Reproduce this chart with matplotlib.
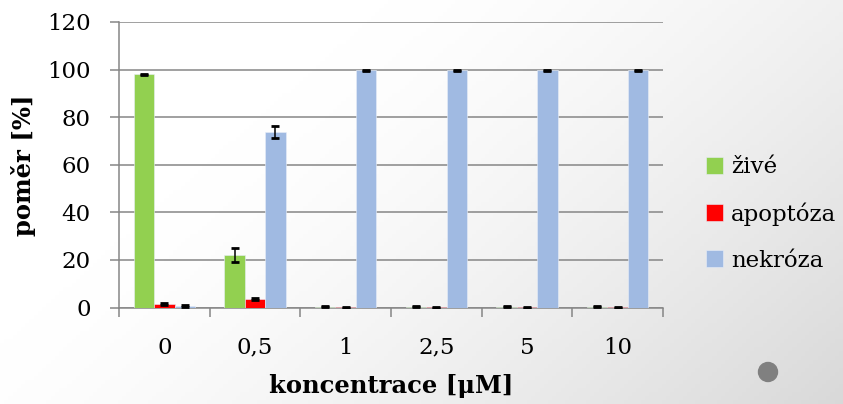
import matplotlib.pyplot as plt
from matplotlib.patches import Circle
import numpy as np

# data
kategorie = ["0", "0,5", "1", "2,5", "5", "10"]
zive = [98.0, 22.2, 0.3, 0.3, 0.3, 0.3]
zive_err = [0.3, 3.0, 0.2, 0.2, 0.2, 0.2]
apoptoza = [1.5, 3.7, 0.1, 0.1, 0.1, 0.1]
apoptoza_err = [0.5, 0.5, 0.1, 0.1, 0.1, 0.1]
nekroza = [0.8, 73.8, 99.7, 99.7, 99.7, 99.7]
nekroza_err = [0.4, 2.5, 0.2, 0.2, 0.2, 0.2]

serii = [("živé", zive, zive_err, "#92D050"),
         ("apoptóza", apoptoza, apoptoza_err, "#FF0000"),
         ("nekróza", nekroza, nekroza_err, "#A0BAE2")]

plt.rcParams['font.family'] = ['DejaVu Serif']
FS = 16.5
FSB = 17.5

fig = plt.figure(figsize=(8.43, 4.04), dpi=100)

# gradient background
bg = fig.add_axes([0, 0, 1, 1], zorder=-10)
xx, yy = np.meshgrid(np.linspace(0, 1, 200), np.linspace(0, 1, 100))
u = 0.65 * xx + 0.35 * yy
g = 1.0 - 0.15 * np.clip((u - 0.3) / 0.7, 0, 1) ** 1.4
bg.imshow(np.dstack([g, g, g]), aspect='auto', extent=(0, 1, 0, 1), origin='upper')
bg.set_xlim(0, 1)
bg.set_ylim(0, 1)
bg.axis('off')
fig.patches.append(Circle((7.68, 4.04 - 3.72), 0.095, color="#808080",
                          transform=fig.dpi_scale_trans))

ax = fig.add_axes([119 / 843, 96.5 / 404, 544 / 843, 285.5 / 404])
ax.patch.set_alpha(0)

x = np.arange(len(kategorie))
w = 0.226
for i, (nazev, vals, err, c) in enumerate(serii):
    pos = x + (i - 1) * w
    ax.bar(pos, vals, w, color=c, edgecolor="#e8eef8", linewidth=0.4,
           label=nazev, zorder=3)
    ax.errorbar(pos, vals, yerr=err, fmt='none', ecolor='black', elinewidth=1.1,
                capsize=2.9, capthick=2, zorder=4)

gc = "#868686"
ax.set_xlim(-0.5, len(kategorie) - 0.5)
ax.set_ylim(0, 120)
ax.set_yticks(np.arange(0, 121, 20))
ax.yaxis.grid(True, color=gc, linewidth=1.1, zorder=1)
ax.set_axisbelow(True)
for s in ['top', 'right']:
    ax.spines[s].set_visible(False)
ax.spines['left'].set_color(gc)
ax.spines['bottom'].set_color(gc)
ax.spines['left'].set_linewidth(1.1)
ax.spines['bottom'].set_linewidth(1.1)

ax.set_xticks(np.arange(-0.5, len(kategorie)))
ax.set_xticklabels([])
ax.set_xticks(x, minor=True)
ax.set_xticklabels(kategorie, minor=True, fontsize=FS)
ax.tick_params(axis='x', which='major', length=6.5, width=1.1, color=gc, direction='out')
ax.tick_params(axis='x', which='minor', length=0, pad=21)
ax.tick_params(axis='y', length=6.5, width=1.1, color=gc, labelsize=FS, pad=14)

ax.set_ylabel("poměr [%]", fontsize=FSB, fontweight='bold', labelpad=8)
ax.set_xlabel("koncentrace [μM]", fontsize=FSB, fontweight='bold', labelpad=11)

fig.legend(loc='center left', bbox_to_anchor=(706 / 843, 1 - 214 / 404),
           frameon=False, fontsize=FS, borderpad=0, borderaxespad=0,
           handlelength=0.75, handleheight=0.75, handletextpad=0.35, labelspacing=1.05)

fig.savefig("out.png", dpi=100)
